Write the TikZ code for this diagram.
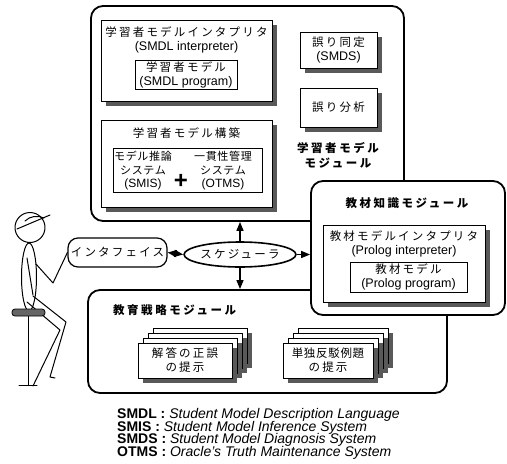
\documentclass[tikz,border=0pt]{standalone}
\usepackage{fontspec}
\setmainfont{Liberation Sans}
\newfontfamily\jp{Noto Sans CJK JP}[Scale=0.92, LetterSpace=19]
\newfontfamily\jpn{Noto Sans CJK JP}[Scale=0.92, LetterSpace=6]
\newfontfamily\jpwide{Noto Sans CJK JP}[Scale=0.92, LetterSpace=22]
\usetikzlibrary{shapes.geometric,arrows.meta,shadows}

\tikzset{
  txt/.style={font=\fontsize{12.5}{14}\selectfont, align=center, inner sep=0pt},
  ttl/.style={font=\fontsize{12.5}{15}\selectfont\jpwide\bfseries, align=center, inner sep=0pt},
  module/.style={draw, fill=white, line width=1.8pt, rounded corners=12pt, inner sep=0pt},
  shbox/.style={draw, fill=white, line width=0.8pt, inner sep=0pt, align=center,
    font=\fontsize{12.5}{14}\selectfont,
    drop shadow={shadow xshift=5pt, shadow yshift=-5pt, fill=black!65, draw=none, opacity=1}},
  plainbox/.style={draw, fill=white, line width=0.8pt, inner sep=0pt, align=center,
    font=\fontsize{12.5}{14}\selectfont},
  conn/.style={line width=1.4pt, -{Triangle[length=9pt,width=7pt]}},
  fig/.style={line width=1pt, line cap=round, line join=round},
  lg/.style={font=\fontsize{14}{14}\selectfont, anchor=west, inner sep=0pt},
}

\begin{document}
\begin{tikzpicture}[x=1pt,y=-1pt]
\useasboundingbox (0,0) rectangle (507,464);

% --- the three modules (the teaching-material module overlaps the other two)
\node[module, minimum width=313pt, minimum height=215pt] (smm) at (247.5,113.5) {};
\node[module, minimum width=359pt, minimum height=103pt] (tsm) at (267.5,341.5) {};
\node[module, minimum width=194pt, minimum height=134pt] (tkm) at (408,248) {};

% --- student model module
\node[shbox, minimum width=171pt, minimum height=81pt] (smi) at (186.5,60.5) {};
\node[txt] (smit) at (186.5,39.5) {{\jp 学習者モデルインタプリタ}\\(SMDL interpreter)};
\node[plainbox, minimum width=102pt, minimum height=29pt] (smp) at (186,74.5)
  {{\jp 学習者モデル}\\(SMDL program)};

\node[shbox, minimum width=171pt, minimum height=87pt] (smc) at (186.5,163.5) {};
\node[txt] (smct) at (186.5,133) {\jp 学習者モデル構築};
\node[plainbox, minimum width=149pt, minimum height=44pt] (sms) at (187.5,170) {};
\node[txt, font=\fontsize{12}{13.5}\selectfont] (smis) at (143,171)
  {{\jpn モデル推論}\\{\jpn システム}\\(SMIS)};
\node[txt, font=\fontsize{12}{13.5}\selectfont] (otms) at (223,171)
  {{\jpn 一貫性管理}\\{\jpn システム}\\(OTMS)};
\node[inner sep=0pt, font=\fontsize{24}{24}\selectfont\bfseries] (plus) at (181,181) {+};

\node[shbox, minimum width=77pt, minimum height=36pt] (smds) at (338.5,50)
  {{\jp 誤り同定}\\(SMDS)};
\node[shbox, minimum width=77pt, minimum height=39pt] (smda) at (338.5,107.5)
  {\jp 誤り分析};
\node[ttl] (smml) at (338,155) {学習者モデル\\モジュール};

% --- teaching-material knowledge module
\node[ttl] (tkmt) at (407,203) {教材知識モジュール};
\node[shbox, minimum width=162pt, minimum height=77pt] (tki) at (404,263.5) {};
\node[txt] (tkit) at (404,244) {{\jp 教材モデルインタプリタ}\\(Prolog interpreter)};
\node[plainbox, minimum width=117pt, minimum height=30pt] (tkp) at (408.5,277)
  {{\jp 教材モデル}\\(Prolog program)};

% --- teaching-strategy module with its stacked cards
\node[ttl, anchor=west] (tsmt) at (113,310) {教育戦略モジュール};
\foreach \k in {3,2,1}{
  \node[shbox, minimum width=94pt, minimum height=35pt] (ca\k) at ({185+5*\k},{360.5-5*\k}) {};
  \node[shbox, minimum width=90pt, minimum height=35pt] (cb\k) at ({328+5*\k},{360.5-5*\k}) {};
}
\node[shbox, minimum width=94pt, minimum height=35pt] (ca) at (185,360.5)
  {{\jp 解答の正誤}\\{\jp の提示}};
\node[shbox, minimum width=90pt, minimum height=35pt] (cb) at (328,360.5)
  {{\jpn 単独反駁例題}\\{\jp の提示}};

% --- scheduler and interface
\node[draw, ellipse, fill=white, line width=1.6pt, minimum width=94pt, minimum height=25pt,
  inner sep=0pt, font=\fontsize{12.5}{14}\selectfont] (sch) at (240,254.5) {\jp スケジューラ};
\node[draw, fill=white, rounded corners=10pt, line width=1.2pt, minimum width=99pt,
  minimum height=29pt, inner sep=0pt, font=\fontsize{12.5}{14}\selectfont] (itf) at (117.5,252.5)
  {\jp インタフェイス};

\draw[conn] (sch.north) -- (sch.north |- smm.south);
\draw[conn] (sch.south) -- (sch.south |- tsm.north);
\draw[conn] (sch.east) -- (sch.east -| tkm.west);
\draw[conn, {Triangle[length=9pt,width=7pt]}-{Triangle[length=9pt,width=7pt]}] (sch.west) -- (itf.east);

% --- the learner on a stool
\draw[fig] (30,227.5) circle[radius=15pt];
\draw[fig] (17,229) -- (50,215);
\draw[fig] (25,221) .. controls (30,216) and (38,215) .. (44,218);
\draw[fig] (29,277) ellipse[x radius=7.5pt, y radius=34pt];
\draw[fig] (27,258) -- (33,295);
\draw[fig] (36,264) -- (53,283) -- (itf.west);
\draw[fig] (33,296) -- (66,322) -- (50,377) -- (55,378);
\draw[fig] (27,302) -- (60,330) -- (33,386);
\draw[fig] (28,316) -- (28,385);
\draw[fig] (19,385.5) -- (37,385.5);
\draw[line width=0.8pt, fill=black!60, rounded corners=3pt] (12,309) rectangle (45,316);

% --- abbreviations
\node[lg] (l1) at (117,415) {\textbf{SMDL :} \textit{Student Model Description Language}};
\node[lg] (l2) at (117,427.5) {\textbf{SMIS :} \textit{Student Model Inference System}};
\node[lg] (l3) at (117,440) {\textbf{SMDS :} \textit{Student Model Diagnosis System}};
\node[lg] (l4) at (117,452.5) {\textbf{OTMS :} \textit{Oracle's Truth Maintenance System}};
\end{tikzpicture}
\end{document}
